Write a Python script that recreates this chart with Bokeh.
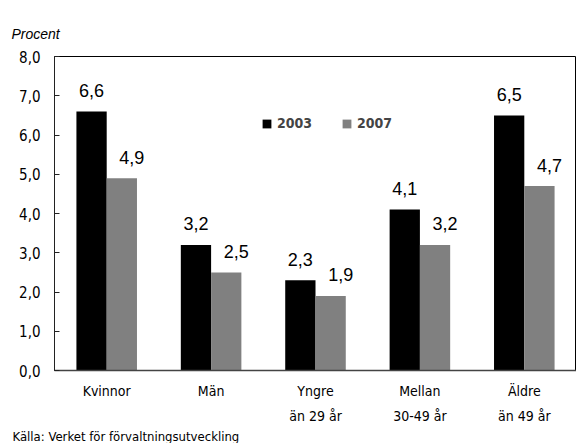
from bokeh.plotting import figure
from bokeh.models import (ColumnDataSource, FactorRange, Range1d, FixedTicker,
                          Legend, LegendItem, CategoricalAxis, Title)
from bokeh.transform import dodge
from bokeh.core.properties import value
from bokeh.embed import file_html
from bokeh.resources import INLINE

categories = ["Kvinnor", "Män", "Yngre", "Mellan", "Äldre"]
categories_line2 = [" ", "  ", "än 29 år", "30-49 år", "än 49 år"]
series_names = ["2003", "2007"]
values_2003 = [6.6, 3.2, 2.3, 4.1, 6.5]
values_2007 = [4.9, 2.5, 1.9, 3.2, 4.7]
y_ticks = [0, 1, 2, 3, 4, 5, 6, 7, 8]
y_tick_labels = ["0,0", "1,0", "2,0", "3,0", "4,0", "5,0", "6,0", "7,0", "8,0"]
y_axis_title = "Procent"
source_text = "Källa: Verket för förvaltningsutveckling"

NARROW = "DejaVu Sans Condensed"
SANS = "Liberation Sans"

def fmt(v):
    return f"{v:.1f}".replace(".", ",")

src = ColumnDataSource(dict(
    cat=categories,
    v03=values_2003,
    v07=values_2007,
    l03=[fmt(v) for v in values_2003],
    l07=[fmt(v) for v in values_2007],
))

p = figure(width=576, height=443, output_backend="svg", toolbar_location=None,
           x_range=FactorRange(*categories, range_padding=0),
           y_range=Range1d(0, 8),
           min_border_left=54, min_border_right=0, min_border_top=56, min_border_bottom=72)
p.extra_x_ranges = {"line2": FactorRange(*categories_line2, range_padding=0)}
p.outline_line_color = "black"
p.outline_line_width = 1
p.xgrid.grid_line_color = None
p.ygrid.grid_line_color = None
p.background_fill_color = "white"
p.border_fill_color = "white"

bw = 0.29
r03 = p.vbar(x=dodge("cat", -0.145, range=p.x_range), top="v03", width=bw, source=src,
             fill_color="#000000", line_color=None)
r07 = p.vbar(x=dodge("cat", 0.145, range=p.x_range), top="v07", width=bw, source=src,
             fill_color="#808080", line_color=None)

p.text(x=dodge("cat", -0.145, range=p.x_range), y="v03", text="l03", source=src,
       text_align="center", text_baseline="alphabetic", y_offset=-21,
       text_font=value(SANS), text_font_size="18px", text_color="black")
p.text(x=dodge("cat", 0.145, range=p.x_range), y="v07", text="l07", source=src,
       text_align="center", text_baseline="alphabetic", y_offset=-21, x_offset=10,
       text_font=value(SANS), text_font_size="18px", text_color="black")

# titles
p.title = Title(text=y_axis_title, align="left", offset=-43, standoff=29,
                text_font=SANS, text_font_style="italic", text_font_size="14px",
                text_color="black")

# axes
yax = p.yaxis[0]
yax.ticker = FixedTicker(ticks=y_ticks)
yax.major_label_overrides = {t: l for t, l in zip(y_ticks, y_tick_labels)}
yax.major_tick_in = 5
yax.major_tick_out = 0
yax.minor_tick_line_color = None
yax.major_label_standoff = 14
yax.major_label_text_font = NARROW
yax.major_label_text_font_size = "15px"
yax.major_label_text_color = "black"
yax.axis_line_color = "#222222"
yax.major_tick_line_color = "#222222"

xax = p.xaxis[0]
xax.major_tick_line_color = None
xax.minor_tick_line_color = None
xax.major_label_standoff = 6
xax.major_label_text_font = NARROW
xax.major_label_text_font_size = "14px"
xax.major_label_text_color = "black"
xax.axis_line_color = "#444444"
xax.axis_line_width = 1.5

xax2 = CategoricalAxis(x_range_name="line2",
                       major_tick_line_color=None, minor_tick_line_color=None,
                       axis_line_color=None, major_label_standoff=0,
                       major_label_text_font=NARROW, major_label_text_font_size="14px",
                       major_label_text_color="black")
p.add_layout(xax2, "below")

p.add_layout(Title(text=source_text, align="left", offset=-42, standoff=0,
                   text_font=NARROW, text_font_style="normal", text_font_size="13px",
                   text_color="black"), "below")

# legend
legend = Legend(items=[LegendItem(label=series_names[0], renderers=[r03]),
                       LegendItem(label=series_names[1], renderers=[r07])],
                orientation="horizontal", location=(207, 239),
                glyph_width=11, glyph_height=11, label_standoff=5, spacing=29,
                padding=0, margin=0, border_line_color=None, background_fill_alpha=0,
                label_text_font=NARROW, label_text_font_style="bold",
                label_text_font_size="14px", label_height=11)
p.add_layout(legend)

open("out.html", "w").write(file_html(p, INLINE))
